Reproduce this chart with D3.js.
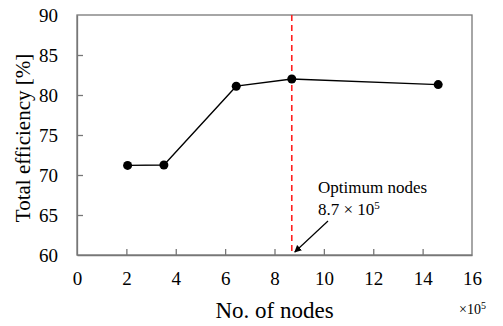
<!DOCTYPE html>
<html>
<head>
<meta charset="utf-8">
<script src="https://cdn.jsdelivr.net/npm/d3@7"></script>
<style>
  body { margin: 0; background: #fff; }
  svg text { font-family: "Liberation Serif", "Times New Roman", serif !important; fill: #000; }
</style>
</head>
<body>
<div id="chart"></div>
<script>
// Data
const nodes = [2.05, 3.52, 6.45, 8.7, 14.63];       // ×10^5
const efficiency = [71.2, 71.25, 81.1, 82.0, 81.3]; // %
const optimumNodes = 8.7;
const xTicks = [0, 2, 4, 6, 8, 10, 12, 14, 16];
const yTicks = [60, 65, 70, 75, 80, 85, 90];

// Visual
const width = 503;
const height = 326;
const margin = { top: 15, right: 31, bottom: 71, left: 77 };
const axisColor = '#777';

const svg = d3.select('#chart')
  .append('svg')
  .attr('width', width)
  .attr('height', height);

const x = d3.scaleLinear().domain([0, 16]).range([margin.left, width - margin.right]);
const y = d3.scaleLinear().domain([60, 90]).range([height - margin.bottom, margin.top]);

// frame
svg.append('rect')
  .attr('x', x(0))
  .attr('y', y(90))
  .attr('width', x(16) - x(0))
  .attr('height', y(60) - y(90))
  .attr('fill', 'none')
  .attr('stroke', axisColor)
  .attr('stroke-width', 1.3);

// axes with inward ticks
const xAxis = svg.append('g')
  .attr('transform', `translate(0,${y(60)})`)
  .call(d3.axisBottom(x).tickValues(xTicks).tickSizeInner(-6).tickSizeOuter(0).tickPadding(17));
const yAxis = svg.append('g')
  .attr('transform', `translate(${x(0)},0)`)
  .call(d3.axisLeft(y).tickValues(yTicks).tickSizeInner(-6).tickSizeOuter(0).tickPadding(19));

[xAxis, yAxis].forEach(g => {
  g.attr('font-family', '"Liberation Serif", serif').attr('font-size', 19);
  g.select('.domain').attr('stroke', axisColor).attr('stroke-width', 1.3);
  g.selectAll('.tick line').attr('stroke', axisColor).attr('stroke-width', 1.3);
  g.selectAll('.tick text').attr('fill', '#000');
});
// hide ticks at the corners (drawn by frame)
xAxis.selectAll('.tick line').filter(d => d === 0 || d === 16).remove();
yAxis.selectAll('.tick line').filter(d => d === 60 || d === 90).remove();

// optimum line
svg.append('line')
  .attr('x1', x(optimumNodes))
  .attr('x2', x(optimumNodes))
  .attr('y1', y(90))
  .attr('y2', y(60))
  .attr('stroke', '#ff2020')
  .attr('stroke-width', 1.6)
  .attr('stroke-dasharray', '6,4');

// series line
const line = d3.line()
  .x((d, i) => x(nodes[i]))
  .y(d => y(d));

svg.append('path')
  .datum(efficiency)
  .attr('d', line)
  .attr('fill', 'none')
  .attr('stroke', '#000')
  .attr('stroke-width', 1.3);

svg.selectAll('circle.pt')
  .data(efficiency)
  .enter()
  .append('circle')
  .attr('class', 'pt')
  .attr('cx', (d, i) => x(nodes[i]))
  .attr('cy', d => y(d))
  .attr('r', 4.5)
  .attr('fill', '#000');

// annotation
svg.append('text')
  .attr('x', 318)
  .attr('y', 193)
  .style('font-size', '17px')
  .text('Optimum nodes');
const ann2 = svg.append('text')
  .attr('x', 318)
  .attr('y', 215)
  .style('font-size', '17px');
ann2.append('tspan').text('8.7 × 10');
ann2.append('tspan').attr('dy', -6).style('font-size', '11px').text('5');

svg.append('defs').append('marker')
  .attr('id', 'arrow')
  .attr('viewBox', '0 0 10 10')
  .attr('refX', 9)
  .attr('refY', 5)
  .attr('markerWidth', 6)
  .attr('markerHeight', 6)
  .attr('orient', 'auto')
  .append('path')
  .attr('d', 'M0,0 L10,5 L0,10 z')
  .attr('fill', '#000');

svg.append('line')
  .attr('x1', 328)
  .attr('y1', 221)
  .attr('x2', x(optimumNodes) + 3)
  .attr('y2', y(60) - 3)
  .attr('stroke', '#000')
  .attr('stroke-width', 1.2)
  .attr('marker-end', 'url(#arrow)');

// axis titles
svg.append('text')
  .attr('x', (x(0) + x(16)) / 2)
  .attr('y', 318)
  .attr('text-anchor', 'middle')
  .style('font-size', '23px')
  .text('No. of nodes');

const unit = svg.append('text')
  .attr('x', 459)
  .attr('y', 314)
  .style('font-size', '14px');
unit.append('tspan').text('×10');
unit.append('tspan').attr('dy', -5).style('font-size', '10px').text('5');

svg.append('text')
  .attr('transform', `translate(30,${(y(60) + y(90)) / 2 + 3}) rotate(-90)`)
  .attr('text-anchor', 'middle')
  .style('font-size', '21px')
  .text('Total efficiency  [%]');
</script>
</body>
</html>
